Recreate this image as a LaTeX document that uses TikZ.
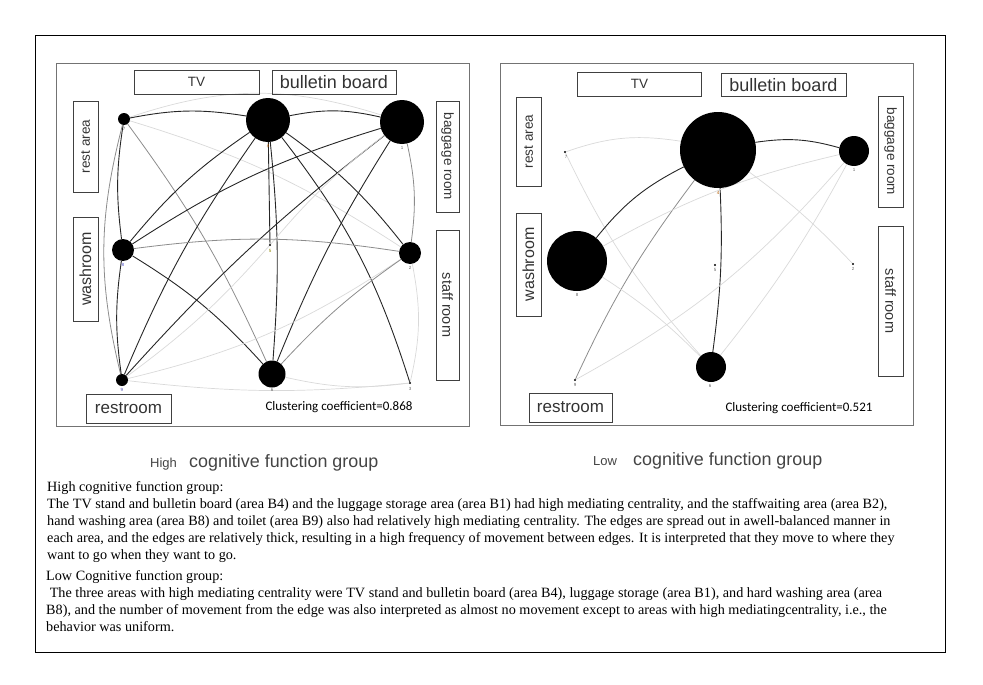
\documentclass[tikz,border=0pt]{standalone}
\usepackage{fontspec}
\setmainfont{Liberation Serif}
\setsansfont{Liberation Sans}
\newfontfamily\calfont{Carlito}
\usetikzlibrary{calc}
\pgfdeclarelayer{bg}
\pgfsetlayers{bg,main}
\definecolor{boxtext}{HTML}{333333}
\definecolor{ttl}{HTML}{444444}
\tikzset{
  pnl/.style={draw=black!55, line width=0.9pt},
  lbl/.style={draw=black!75, line width=0.7pt, inner sep=0pt, text=boxtext, font=\sffamily},
  nd/.style={circle, fill=black, inner sep=0pt},
  dot/.style={circle, fill=black, inner sep=0pt, minimum size=2.2pt},
  num/.style={font=\sffamily\fontsize{4.5}{5}\selectfont, text=black!60, inner sep=0pt},
  dk/.style={draw=black!85, line width=0.9pt},
  md/.style={draw=black!45, line width=0.8pt},
  lt/.style={draw=black!15, line width=0.7pt},
  body/.style={anchor=base west, inner sep=0pt, font=\fontsize{14.2}{16}\selectfont},
  cc/.style={font=\calfont\fontsize{13}{15}\selectfont, inner sep=0pt},
}
\begin{document}
\begin{tikzpicture}[x=1pt,y=1pt]
\useasboundingbox (0,0) rectangle (983,-685);
\draw[black, line width=0.9pt] (35,-35) rectangle (945,-652);

% ---------------- left panel ----------------
\draw[pnl] (56,-63) rectangle (469,-426);
\node[lbl, minimum width=125pt, minimum height=24pt, font=\sffamily\fontsize{13.5}{15}\selectfont] (lTV) at (196.5,-82) {TV};
\node[lbl, minimum width=124pt, minimum height=24pt, font=\sffamily\fontsize{18}{20}\selectfont] (lBB) at (334,-82) {bulletin board};
\node[lbl, rotate=90, minimum width=91pt, minimum height=25pt, font=\sffamily\fontsize{13.5}{15}\selectfont] (lRest) at (85.5,-146.5) {rest area};
\node[lbl, rotate=90, minimum width=104pt, minimum height=25pt, font=\sffamily\fontsize{16}{18}\selectfont] (lWash) at (85.5,-269) {washroom};
\node[lbl, rotate=-90, minimum width=111pt, minimum height=23pt, font=\sffamily\fontsize{13.5}{15}\selectfont] (lBag) at (447.5,-156.5) {baggage room};
\node[lbl, rotate=-90, minimum width=150pt, minimum height=23pt, font=\sffamily\fontsize{14.5}{16}\selectfont] (lStaff) at (447.5,-305) {staff room};
\node[lbl, minimum width=85pt, minimum height=29pt, font=\sffamily\fontsize{17}{19}\selectfont] (lRR) at (128.5,-408.5) {restroom};
\node[cc] (lCC) at (339,-407) {Clustering coefficient=0.868};

\node[nd, minimum size=12pt] (L7) at (124,-119) {};
\node[nd, minimum size=44pt] (L4) at (268,-120) {};
\node[nd, minimum size=44pt] (L1) at (402,-122) {};
\node[nd, minimum size=22pt] (L8) at (123,-250) {};
\node[dot] (L5) at (270,-245) {};
\node[nd, minimum size=22pt] (L2) at (410,-253) {};
\node[nd, minimum size=12pt] (L9) at (122,-380) {};
\node[nd, minimum size=27pt] (L6) at (272,-374) {};
\node[dot] (L3) at (410,-383) {};

\node[num] (nL7) at (124,-129) {7};
\node[num, text=orange!70!black] (nL4) at (268,-146) {4};
\node[num] (nL1) at (402,-148) {1};
\node[num, text=blue!50!gray] (nL8) at (123,-265) {8};
\node[num, text=olive] (nL5) at (270,-251) {5};
\node[num] (nL2) at (410,-268) {2};
\node[num, text=blue!40!gray] (nL9) at (122,-390) {9};
\node[num] (nL6) at (272,-390) {6};
\node[num] (nL3) at (410,-389) {3};

\begin{pgfonlayer}{bg}
\draw[lt] (L7) to[bend left=18] (L1);
\draw[dk] (L7) to[bend left=10] (L4);
\draw[dk] (L4) to[bend left=12] (L1);
\draw[dk] (L7) to[bend right=8] (L8);
\draw[md] (L7) to[bend right=14] (L9);
\draw[dk] (L8) to[bend right=8] (L9);
\draw[md] (L7) to[bend left=6] (L6);
\draw[lt] (L7) to[bend left=8] (L2);
\draw[dk] (L4) to[bend right=8] (L8);
\draw[dk] (L4) to[bend right=6] (L9);
\draw[dk] (L4) to[bend left=5] (L6);
\draw[dk] (L4) -- (L5);
\draw[dk] (L4) to[bend left=8] (L2);
\draw[dk] (L4) to[bend left=10] (L3);
\draw[dk] (L1) to[bend right=8] (L8);
\draw[dk] (L1) to[bend right=5] (L9);
\draw[dk] (L1) to[bend right=5] (L6);
\draw[md] (L1) to[bend left=10] (L2);
\draw[lt] (L1) to[bend right=6] (L5);
\draw[md] (L8) to[bend left=8] (L2);
\draw[dk] (L8) to[bend left=8] (L6);
\draw[lt] (L9) to[bend right=6] (L5);
\draw[lt] (L9) to[bend right=10] (L2);
\draw[lt] (L9) to[bend right=6] (L3);
\draw[md] (L6) to[bend left=6] (L2);
\draw[lt] (L6) to[bend right=10] (L3);
\draw[lt] (L2) to[bend left=12] (L3);
\end{pgfonlayer}

% ---------------- right panel ----------------
\draw[pnl] (500,-63) rectangle (913,-425);
\node[lbl, minimum width=124pt, minimum height=24pt, font=\sffamily\fontsize{13.5}{15}\selectfont] (rTV) at (639.5,-84) {TV};
\node[lbl, minimum width=125pt, minimum height=23pt, font=\sffamily\fontsize{18}{20}\selectfont] (rBB) at (783.5,-85) {bulletin board};
\node[lbl, rotate=90, minimum width=89pt, minimum height=25pt, font=\sffamily\fontsize{13.5}{15}\selectfont] (rRest) at (528.5,-141.5) {rest area};
\node[lbl, rotate=90, minimum width=103pt, minimum height=25pt, font=\sffamily\fontsize{16}{18}\selectfont] (rWash) at (528.5,-264.5) {washroom};
\node[lbl, rotate=-90, minimum width=111pt, minimum height=25pt, font=\sffamily\fontsize{13.5}{15}\selectfont] (rBag) at (890.5,-151.5) {baggage room};
\node[lbl, rotate=-90, minimum width=150pt, minimum height=25pt, font=\sffamily\fontsize{14.5}{16}\selectfont] (rStaff) at (890.5,-301) {staff room};
\node[lbl, minimum width=83pt, minimum height=29pt, font=\sffamily\fontsize{17}{19}\selectfont] (rRR) at (570.5,-407.5) {restroom};
\node[cc] (rCC) at (799,-408) {Clustering coefficient=0.521};

\node[dot] (R7) at (565,-152) {};
\node[nd, minimum size=76pt] (R4) at (718,-150) {};
\node[nd, minimum size=30pt] (R1) at (854,-151) {};
\node[nd, minimum size=60pt] (R8) at (577,-261) {};
\node[dot] (R5) at (715,-265) {};
\node[dot] (R2) at (853,-264) {};
\node[dot] (R9) at (575,-380) {};
\node[nd, minimum size=30pt] (R6) at (711,-367) {};

\node[num] (nR7) at (566,-157) {7};
\node[num, text=orange!70!black] (nR4) at (718,-193) {4};
\node[num] (nR1) at (854,-170) {1};
\node[num] (nR8) at (577,-295) {8};
\node[num] (nR5) at (715,-270) {5};
\node[num] (nR2) at (853,-269) {2};
\node[num] (nR9) at (575,-385) {9};
\node[num] (nR6) at (710,-386) {6};

\begin{pgfonlayer}{bg}
\draw[lt] (R7) to[bend left=14] (R4);
\draw[lt] (R7) to[bend right=8] (R6);
\draw[dk] (R4) to[bend left=12] (R1);
\draw[dk] (R4) to[bend right=12] (R8);
\draw[dk] (R4) to[bend left=5] (R6);
\draw[md] (R4) to[bend right=6] (R9);
\draw[lt] (R4) to[bend left=5] (R2);
\draw[lt] (R1) to[bend right=8] (R8);
\draw[lt] (R1) to[bend left=5] (R6);
\draw[lt] (R9) to[bend right=10] (R1);
\draw[lt] (R8) to[bend left=6] (R6);
\end{pgfonlayer}

% ---------------- titles ----------------
\node[anchor=base west, inner sep=0pt, text=ttl, font=\sffamily\fontsize{13}{15}\selectfont] (tH1) at (150,-467) {High};
\node[anchor=base west, inner sep=0pt, text=ttl, font=\sffamily\fontsize{17.9}{19}\selectfont] (tH2) at (189,-467) {cognitive function group};
\node[anchor=base west, inner sep=0pt, text=ttl, font=\sffamily\fontsize{13}{15}\selectfont] (tL1) at (593,-465) {Low};
\node[anchor=base west, inner sep=0pt, text=ttl, font=\sffamily\fontsize{17.9}{19}\selectfont] (tL2) at (633,-465) {cognitive function group};

% ---------------- body text ----------------
\node[body] (b1) at (47,-491) {High cognitive function group:};
\node[body] (b2) at (47,-508) {The TV stand and bulletin board (area B4) and the luggage storage area (area B1) had high mediating centrality, and the staffwaiting area (area B2),};
\node[body] (b3) at (47,-525) {hand washing area (area B8) and toilet (area B9) also had relatively high mediating centrality. The edges are spread out in awell-balanced manner in};
\node[body] (b4) at (47,-542) {each area, and the edges are relatively thick, resulting in a high frequency of movement between edges. It is interpreted that they move to where they};
\node[body] (b5) at (47,-559) {want to go when they want to go.};
\node[body] (b6) at (46,-580) {Low Cognitive function group:};
\node[body] (b7) at (46,-597) {\ The three areas with high mediating centrality were TV stand and bulletin board (area B4), luggage storage (area B1), and hard washing area (area};
\node[body] (b8) at (46,-614) {B8), and the number of movement from the edge was also interpreted as almost no movement except to areas with high mediatingcentrality, i.e., the};
\node[body] (b9) at (46,-631) {behavior was uniform.};
\end{tikzpicture}
\end{document}
